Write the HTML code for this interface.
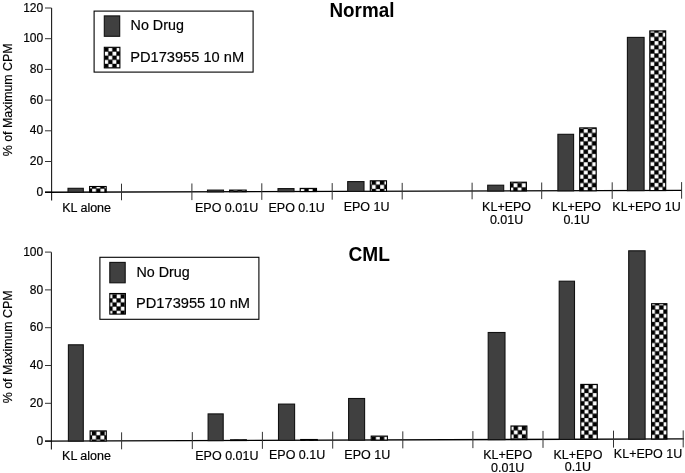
<!DOCTYPE html>
<html><head><meta charset="utf-8"><title>Chart</title>
<style>html,body{margin:0;padding:0;background:#fff;}body{width:685px;height:473px;overflow:hidden;}svg{display:block;filter:blur(0.3px);}
text{font-family:"Liberation Sans", sans-serif;stroke:#000;stroke-width:0.18px;paint-order:stroke;}</style></head>
<body><svg width="685" height="473" viewBox="0 0 685 473" font-family='"Liberation Sans", sans-serif' fill="#000"><defs><pattern id="ck1" patternUnits="userSpaceOnUse" x="583.500" y="32.700" width="8.334" height="8.334"><rect width="8.334" height="8.334" fill="#000"/><rect x="4.317" y="0.150" width="3.867" height="3.867" fill="#fff"/><rect x="0.150" y="4.317" width="3.867" height="3.867" fill="#fff"/></pattern><pattern id="ck2" patternUnits="userSpaceOnUse" x="92.000" y="184.450" width="8.340" height="8.340"><rect width="8.340" height="8.340" fill="#000"/><rect x="4.320" y="0.150" width="3.870" height="3.870" fill="#fff"/><rect x="0.150" y="4.320" width="3.870" height="3.870" fill="#fff"/></pattern><pattern id="ck3" patternUnits="userSpaceOnUse" x="304.400" y="188.800" width="8.340" height="8.340"><rect width="8.340" height="8.340" fill="#000"/><rect x="4.320" y="0.150" width="3.870" height="3.870" fill="#fff"/><rect x="0.150" y="4.320" width="3.870" height="3.870" fill="#fff"/></pattern><pattern id="ck4" patternUnits="userSpaceOnUse" x="371.700" y="180.600" width="8.340" height="8.340"><rect width="8.340" height="8.340" fill="#000"/><rect x="4.320" y="0.150" width="3.870" height="3.870" fill="#fff"/><rect x="0.150" y="4.320" width="3.870" height="3.870" fill="#fff"/></pattern><pattern id="ck5" patternUnits="userSpaceOnUse" x="509.200" y="183.200" width="8.340" height="8.340"><rect width="8.340" height="8.340" fill="#000"/><rect x="4.320" y="0.150" width="3.870" height="3.870" fill="#fff"/><rect x="0.150" y="4.320" width="3.870" height="3.870" fill="#fff"/></pattern><pattern id="ck6" patternUnits="userSpaceOnUse" x="579.500" y="128.800" width="8.340" height="8.340"><rect width="8.340" height="8.340" fill="#000"/><rect x="4.320" y="0.150" width="3.870" height="3.870" fill="#fff"/><rect x="0.150" y="4.320" width="3.870" height="3.870" fill="#fff"/></pattern><pattern id="ck7" patternUnits="userSpaceOnUse" x="650.200" y="32.700" width="8.340" height="8.340"><rect width="8.340" height="8.340" fill="#000"/><rect x="4.320" y="0.150" width="3.870" height="3.870" fill="#fff"/><rect x="0.150" y="4.320" width="3.870" height="3.870" fill="#fff"/></pattern><pattern id="ck8" patternUnits="userSpaceOnUse" x="104.200" y="47.500" width="8.200" height="8.200"><rect width="8.200" height="8.200" fill="#000"/><rect x="4.250" y="0.150" width="3.800" height="3.800" fill="#fff"/><rect x="0.150" y="4.250" width="3.800" height="3.800" fill="#fff"/></pattern><pattern id="ck9" patternUnits="userSpaceOnUse" x="575.900" y="305.400" width="8.334" height="8.334"><rect width="8.334" height="8.334" fill="#000"/><rect x="4.317" y="0.150" width="3.867" height="3.867" fill="#fff"/><rect x="0.150" y="4.317" width="3.867" height="3.867" fill="#fff"/></pattern><pattern id="ck10" patternUnits="userSpaceOnUse" x="92.000" y="431.200" width="8.340" height="8.340"><rect width="8.340" height="8.340" fill="#000"/><rect x="4.320" y="0.150" width="3.870" height="3.870" fill="#fff"/><rect x="0.150" y="4.320" width="3.870" height="3.870" fill="#fff"/></pattern><pattern id="ck11" patternUnits="userSpaceOnUse" x="371.600" y="436.400" width="8.340" height="8.340"><rect width="8.340" height="8.340" fill="#000"/><rect x="4.320" y="0.150" width="3.870" height="3.870" fill="#fff"/><rect x="0.150" y="4.320" width="3.870" height="3.870" fill="#fff"/></pattern><pattern id="ck12" patternUnits="userSpaceOnUse" x="513.700" y="426.100" width="8.340" height="8.340"><rect width="8.340" height="8.340" fill="#000"/><rect x="4.320" y="0.150" width="3.870" height="3.870" fill="#fff"/><rect x="0.150" y="4.320" width="3.870" height="3.870" fill="#fff"/></pattern><pattern id="ck13" patternUnits="userSpaceOnUse" x="580.200" y="384.600" width="8.340" height="8.340"><rect width="8.340" height="8.340" fill="#000"/><rect x="4.320" y="0.150" width="3.870" height="3.870" fill="#fff"/><rect x="0.150" y="4.320" width="3.870" height="3.870" fill="#fff"/></pattern><pattern id="ck14" patternUnits="userSpaceOnUse" x="650.900" y="305.400" width="8.340" height="8.340"><rect width="8.340" height="8.340" fill="#000"/><rect x="4.320" y="0.150" width="3.870" height="3.870" fill="#fff"/><rect x="0.150" y="4.320" width="3.870" height="3.870" fill="#fff"/></pattern><pattern id="ck15" patternUnits="userSpaceOnUse" x="112.500" y="294.300" width="8.200" height="8.200"><rect width="8.200" height="8.200" fill="#000"/><rect x="4.250" y="0.150" width="3.800" height="3.800" fill="#fff"/><rect x="0.150" y="4.250" width="3.800" height="3.800" fill="#fff"/></pattern></defs><rect width="685" height="473" fill="#fff"/><line x1="51.6" y1="8.0" x2="51.6" y2="200.5" stroke="#1a1a1a" stroke-width="1.1"/><line x1="45.0" y1="192.20" x2="51.6" y2="192.20" stroke="#333" stroke-width="1.0"/><text x="43.2" y="195.80" text-anchor="end" font-size="12">0</text><line x1="45.0" y1="161.50" x2="51.6" y2="161.50" stroke="#333" stroke-width="1.0"/><text x="43.2" y="165.10" text-anchor="end" font-size="12">20</text><line x1="45.0" y1="130.80" x2="51.6" y2="130.80" stroke="#333" stroke-width="1.0"/><text x="43.2" y="134.40" text-anchor="end" font-size="12">40</text><line x1="45.0" y1="100.10" x2="51.6" y2="100.10" stroke="#333" stroke-width="1.0"/><text x="43.2" y="103.70" text-anchor="end" font-size="12">60</text><line x1="45.0" y1="69.40" x2="51.6" y2="69.40" stroke="#333" stroke-width="1.0"/><text x="43.2" y="73.00" text-anchor="end" font-size="12">80</text><line x1="45.0" y1="38.70" x2="51.6" y2="38.70" stroke="#333" stroke-width="1.0"/><text x="43.2" y="42.30" text-anchor="end" font-size="12">100</text><line x1="45.0" y1="8.00" x2="51.6" y2="8.00" stroke="#333" stroke-width="1.0"/><text x="43.2" y="11.60" text-anchor="end" font-size="12">120</text><line x1="45.0" y1="192.2" x2="682" y2="190.4" stroke="#000" stroke-width="1.35"/><line x1="121.50" y1="183.68" x2="121.50" y2="200.28" stroke="#333" stroke-width="1.0"/><line x1="191.90" y1="183.48" x2="191.90" y2="200.08" stroke="#333" stroke-width="1.0"/><line x1="261.80" y1="183.29" x2="261.80" y2="199.89" stroke="#333" stroke-width="1.0"/><line x1="332.20" y1="183.09" x2="332.20" y2="199.69" stroke="#333" stroke-width="1.0"/><line x1="402.20" y1="182.89" x2="402.20" y2="199.49" stroke="#333" stroke-width="1.0"/><line x1="472.10" y1="182.69" x2="472.10" y2="199.29" stroke="#333" stroke-width="1.0"/><line x1="541.70" y1="182.50" x2="541.70" y2="199.10" stroke="#333" stroke-width="1.0"/><line x1="612.20" y1="182.30" x2="612.20" y2="198.90" stroke="#333" stroke-width="1.0"/><line x1="681.60" y1="182.10" x2="681.60" y2="198.70" stroke="#333" stroke-width="1.0"/><rect x="68.00" y="188.30" width="15.30" height="3.91" fill="#404040" stroke="#111" stroke-width="1.1"/><rect x="207.50" y="190.10" width="16.00" height="1.72" fill="#404040" stroke="#111" stroke-width="1.1"/><rect x="278.00" y="188.60" width="16.00" height="3.02" fill="#404040" stroke="#111" stroke-width="1.1"/><rect x="347.70" y="181.60" width="16.30" height="9.82" fill="#404040" stroke="#111" stroke-width="1.1"/><rect x="487.70" y="185.20" width="16.00" height="5.83" fill="#404040" stroke="#111" stroke-width="1.1"/><rect x="557.90" y="134.30" width="15.70" height="56.53" fill="#404040" stroke="#111" stroke-width="1.1"/><rect x="627.40" y="37.40" width="16.70" height="153.23" fill="#404040" stroke="#111" stroke-width="1.1"/><rect x="89.60" y="186.50" width="16.60" height="5.65" fill="url(#ck2)" stroke="#000" stroke-width="1.1"/><rect x="229.60" y="190.10" width="16.60" height="1.65" fill="url(#ck1)" stroke="#000" stroke-width="1.1"/><rect x="300.20" y="188.40" width="16.30" height="3.16" fill="url(#ck3)" stroke="#000" stroke-width="1.1"/><rect x="370.30" y="180.80" width="16.20" height="10.56" fill="url(#ck4)" stroke="#000" stroke-width="1.1"/><rect x="510.50" y="182.20" width="15.90" height="8.76" fill="url(#ck5)" stroke="#000" stroke-width="1.1"/><rect x="579.70" y="127.90" width="16.50" height="62.87" fill="url(#ck6)" stroke="#000" stroke-width="1.1"/><rect x="649.80" y="30.90" width="15.90" height="159.67" fill="url(#ck7)" stroke="#000" stroke-width="1.1"/><text x="86.60" y="212.18" text-anchor="middle" font-size="12.5">KL alone</text><text x="226.60" y="211.79" text-anchor="middle" font-size="12.5">EPO 0.01U</text><text x="296.60" y="211.59" text-anchor="middle" font-size="12.5">EPO 0.1U</text><text x="366.60" y="211.39" text-anchor="middle" font-size="12.5">EPO 1U</text><text x="506.60" y="211.00" text-anchor="middle" font-size="12.5">KL+EPO</text><text x="506.60" y="223.80" text-anchor="middle" font-size="12.5">0.01U</text><text x="576.60" y="210.80" text-anchor="middle" font-size="12.5">KL+EPO</text><text x="576.60" y="223.60" text-anchor="middle" font-size="12.5">0.1U</text><text x="646.60" y="210.60" text-anchor="middle" font-size="12.5">KL+EPO 1U</text><text transform="translate(12.4,99.8) rotate(-90)" text-anchor="middle" font-size="12.4">% of Maximum CPM</text><text x="329.5" y="16.6" font-size="20" font-weight="bold" style="stroke:none" textLength="64.9" lengthAdjust="spacingAndGlyphs">Normal</text><rect x="94.1" y="11.1" width="159" height="61" fill="none" stroke="#000" stroke-width="1.1"/><rect x="104.30" y="15.90" width="15.40" height="20.40" fill="#404040" stroke="#111" stroke-width="1.1"/><rect x="104.30" y="47.30" width="15.60" height="20.60" fill="url(#ck8)" stroke="#000" stroke-width="1.1"/><text x="130.6" y="29.9" font-size="14.3">No Drug</text><text x="130.2" y="61.6" font-size="14.5" textLength="114" lengthAdjust="spacingAndGlyphs">PD173955 10 nM</text><line x1="51.4" y1="252.2" x2="51.4" y2="449.5" stroke="#1a1a1a" stroke-width="1.1"/><line x1="45.0" y1="441.10" x2="51.4" y2="441.10" stroke="#333" stroke-width="1.0"/><text x="43.2" y="444.70" text-anchor="end" font-size="12">0</text><line x1="45.0" y1="403.30" x2="51.4" y2="403.30" stroke="#333" stroke-width="1.0"/><text x="43.2" y="406.90" text-anchor="end" font-size="12">20</text><line x1="45.0" y1="365.50" x2="51.4" y2="365.50" stroke="#333" stroke-width="1.0"/><text x="43.2" y="369.10" text-anchor="end" font-size="12">40</text><line x1="45.0" y1="327.70" x2="51.4" y2="327.70" stroke="#333" stroke-width="1.0"/><text x="43.2" y="331.30" text-anchor="end" font-size="12">60</text><line x1="45.0" y1="289.90" x2="51.4" y2="289.90" stroke="#333" stroke-width="1.0"/><text x="43.2" y="293.50" text-anchor="end" font-size="12">80</text><line x1="45.0" y1="252.10" x2="51.4" y2="252.10" stroke="#333" stroke-width="1.0"/><text x="43.2" y="255.70" text-anchor="end" font-size="12">100</text><line x1="45.0" y1="441.1" x2="684" y2="438.9" stroke="#000" stroke-width="1.35"/><line x1="121.60" y1="432.34" x2="121.60" y2="449.34" stroke="#333" stroke-width="1.0"/><line x1="192.30" y1="432.09" x2="192.30" y2="449.09" stroke="#333" stroke-width="1.0"/><line x1="262.40" y1="431.85" x2="262.40" y2="448.85" stroke="#333" stroke-width="1.0"/><line x1="332.70" y1="431.61" x2="332.70" y2="448.61" stroke="#333" stroke-width="1.0"/><line x1="402.80" y1="431.37" x2="402.80" y2="448.37" stroke="#333" stroke-width="1.0"/><line x1="472.90" y1="431.13" x2="472.90" y2="448.13" stroke="#333" stroke-width="1.0"/><line x1="543.00" y1="430.89" x2="543.00" y2="447.89" stroke="#333" stroke-width="1.0"/><line x1="613.50" y1="430.64" x2="613.50" y2="447.64" stroke="#333" stroke-width="1.0"/><line x1="683.20" y1="430.40" x2="683.20" y2="447.40" stroke="#333" stroke-width="1.0"/><rect x="68.40" y="344.80" width="14.90" height="96.29" fill="#404040" stroke="#111" stroke-width="1.1"/><rect x="208.10" y="413.90" width="15.10" height="26.71" fill="#404040" stroke="#111" stroke-width="1.1"/><rect x="278.50" y="404.10" width="16.10" height="36.27" fill="#404040" stroke="#111" stroke-width="1.1"/><rect x="348.60" y="398.50" width="16.00" height="41.63" fill="#404040" stroke="#111" stroke-width="1.1"/><rect x="488.20" y="332.50" width="16.80" height="107.15" fill="#404040" stroke="#111" stroke-width="1.1"/><rect x="559.20" y="281.20" width="15.30" height="158.20" fill="#404040" stroke="#111" stroke-width="1.1"/><rect x="628.70" y="250.80" width="16.40" height="188.36" fill="#404040" stroke="#111" stroke-width="1.1"/><rect x="90.10" y="430.90" width="16.20" height="10.12" fill="url(#ck10)" stroke="#000" stroke-width="1.1"/><rect x="230.60" y="439.80" width="15.80" height="0.73" fill="url(#ck9)" stroke="#000" stroke-width="1.1"/><rect x="300.70" y="439.50" width="16.60" height="0.79" fill="url(#ck9)" stroke="#000" stroke-width="1.1"/><rect x="371.20" y="436.10" width="16.20" height="3.95" fill="url(#ck11)" stroke="#000" stroke-width="1.1"/><rect x="511.00" y="426.00" width="15.90" height="13.57" fill="url(#ck12)" stroke="#000" stroke-width="1.1"/><rect x="580.80" y="384.40" width="16.50" height="54.93" fill="url(#ck13)" stroke="#000" stroke-width="1.1"/><rect x="651.60" y="303.70" width="15.30" height="135.39" fill="url(#ck14)" stroke="#000" stroke-width="1.1"/><text x="86.50" y="460.21" text-anchor="middle" font-size="12.5">KL alone</text><text x="226.90" y="459.72" text-anchor="middle" font-size="12.5">EPO 0.01U</text><text x="297.10" y="459.48" text-anchor="middle" font-size="12.5">EPO 0.1U</text><text x="367.30" y="459.24" text-anchor="middle" font-size="12.5">EPO 1U</text><text x="507.70" y="458.76" text-anchor="middle" font-size="12.5">KL+EPO</text><text x="507.70" y="471.56" text-anchor="middle" font-size="12.5">0.01U</text><text x="577.90" y="458.52" text-anchor="middle" font-size="12.5">KL+EPO</text><text x="577.90" y="471.32" text-anchor="middle" font-size="12.5">0.1U</text><text x="648.10" y="458.27" text-anchor="middle" font-size="12.5">KL+EPO 1U</text><text transform="translate(12.4,346.8) rotate(-90)" text-anchor="middle" font-size="12.4">% of Maximum CPM</text><text x="348.5" y="260.8" font-size="20" font-weight="bold" style="stroke:none" textLength="41.4" lengthAdjust="spacingAndGlyphs">CML</text><rect x="99.9" y="257.3" width="159" height="62" fill="none" stroke="#000" stroke-width="1.1"/><rect x="109.80" y="262.40" width="15.40" height="20.40" fill="#404040" stroke="#111" stroke-width="1.1"/><rect x="109.80" y="293.50" width="15.60" height="20.60" fill="url(#ck15)" stroke="#000" stroke-width="1.1"/><text x="136.4" y="276.8" font-size="14.3">No Drug</text><text x="136.0" y="308.0" font-size="14.5" textLength="114" lengthAdjust="spacingAndGlyphs">PD173955 10 nM</text></svg></body></html>
